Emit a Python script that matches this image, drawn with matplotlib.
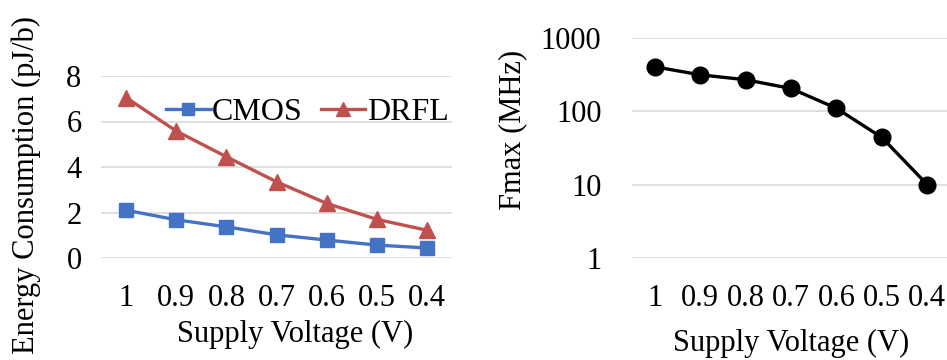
import matplotlib
matplotlib.use("Agg")
import matplotlib.pyplot as plt

voltages = ["1", "0.9", "0.8", "0.7", "0.6", "0.5", "0.4"]
cmos = [2.1, 1.68, 1.37, 1.02, 0.79, 0.57, 0.44]
drfl = [7.05, 5.58, 4.45, 3.35, 2.4, 1.7, 1.22]
fmax = [405, 315, 270, 205, 110, 44, 10]

BLUE = "#4472C4"
RED = "#C0504D"
GRID = "#D9D9D9"

plt.rcParams["font.family"] = ["Liberation Serif", "DejaVu Serif"]
plt.rcParams["font.size"] = 22

fig = plt.figure(figsize=(9.47, 3.6), dpi=100)


def _style(ax):
    for s in ax.spines.values():
        s.set_visible(False)
    ax.tick_params(length=0)
    ax.grid(True, axis="y", color=GRID, linewidth=1.2)
    ax.set_axisbelow(True)


# left: energy per bit
ax1 = fig.add_axes([0.1067, 0.2833, 0.3706, 0.5056])
x = range(len(voltages))
ax1.plot(x, cmos, "s-", color=BLUE, lw=2.4, ms=10.5, label="CMOS")
ax1.plot(x, drfl, "^-", color=RED, lw=2.4, ms=12, label="DRFL")
ax1.set_xlim(-0.5, len(voltages) - 0.5)
ax1.set_ylim(0, 8)
ax1.set_yticks([0, 2, 4, 6, 8])
ax1.set_xticks(list(x))
ax1.set_xticklabels(voltages)
_style(ax1)
ax1.tick_params(axis="x", pad=19)
ax1.tick_params(axis="y", pad=14)
ax1.set_xlabel("Supply Voltage (V)", labelpad=5)
ax1.xaxis.label.set_x(0.553)
ax1.set_ylabel("Energy Consumption (pJ/b)", labelpad=18)
ax1.yaxis.label.set_y(0.40)
ax1.legend(loc="upper right", bbox_to_anchor=(1.045, 0.985), ncol=2, frameon=False,
           fontsize=23, markerscale=0.85, handlelength=1.4, handletextpad=0.05,
           columnspacing=0.55, borderaxespad=0.2)

# right: max frequency
ax2 = fig.add_axes([0.6674, 0.2833, 0.3358, 0.6111])
ax2.plot(x, fmax, "o-", color="black", lw=2.4, ms=12)
ax2.set_yscale("log")
ax2.set_xlim(-0.5, len(voltages) - 0.5)
ax2.set_ylim(1, 1000)
ax2.set_yticks([1, 10, 100, 1000])
ax2.set_yticklabels(["1", "10", "100", "1000"])
ax2.minorticks_off()
ax2.set_xticks(list(x))
ax2.set_xticklabels(voltages)
_style(ax2)
ax2.tick_params(axis="x", pad=19)
ax2.tick_params(axis="y", pad=22)
ax2.set_xlabel("Supply Voltage (V)", labelpad=11)
ax2.set_ylabel("Fmax (MHz)", labelpad=10)
ax2.yaxis.label.set_y(0.58)

fig.savefig("out.png", dpi=100)
